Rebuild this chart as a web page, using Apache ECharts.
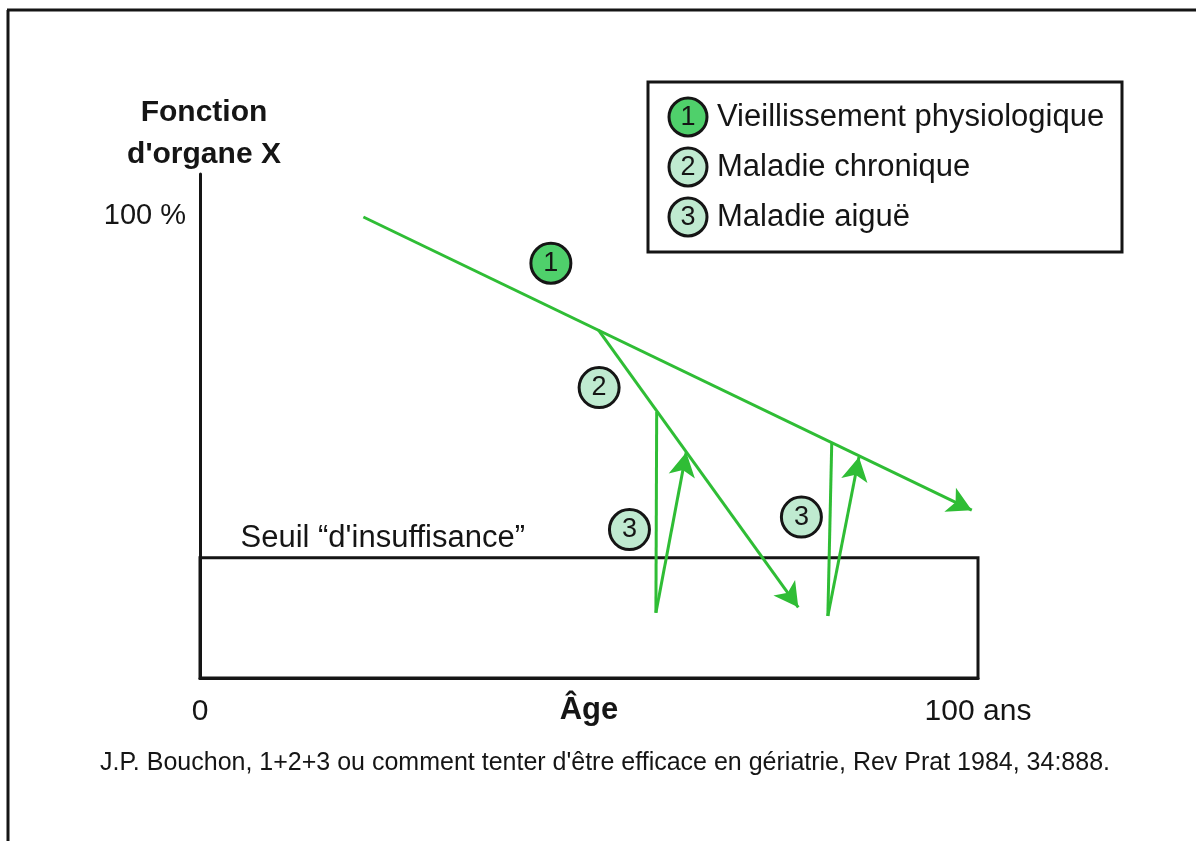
<!DOCTYPE html>
<html>
<head>
<meta charset="utf-8">
<script src="https://cdn.jsdelivr.net/npm/echarts@6/dist/echarts.min.js"></script>
<style>
  html, body { margin: 0; padding: 0; background: #fff; }
  #chart { width: 1196px; height: 841px; }
</style>
</head>
<body>
<div id="chart"></div>
<script>
// axes
let xTicks = [0, 100];
let yTicks = [100];
let threshold = 26;

// courbes (age, fonction %)
let agingLine = [[21, 99.7], [99.2, 36.3]];
let chronicLine = [[51.2, 75.3], [76.9, 15.3]];
let acuteA = [[58.7, 57.6], [58.6, 14.1], [62.5, 48.8]];
let acuteB = [[81.2, 50.8], [80.7, 13.4], [84.7, 47.8]];

// pastilles numerotees
let badges = [[45.1, 89.7, '1'], [51.3, 62.8, '2'], [55.2, 32.1, '3'], [77.3, 34.8, '3']];

let legendLabels = ['Vieillissement physiologique', 'Maladie chronique', 'Maladie aiguë'];
let legendNums = ['1', '2', '3'];

let green = '#2fbd35';
let darkFill = '#4fd06b';
let lightFill = '#bfead0';
let ink = '#151515';
let font = '"Liberation Sans", Arial, sans-serif';

function seg(a, b, arrow) {
	return [
		{ coord: a, symbol: 'none' },
		{ coord: b, symbol: arrow ? 'arrow' : 'none' }
	];
}

let segments = [
	seg(agingLine[0], agingLine[1], true),
	seg(chronicLine[0], chronicLine[1], true),
	seg(acuteA[0], acuteA[1], false),
	seg(acuteA[1], acuteA[2], true),
	seg(acuteB[0], acuteB[1], false),
	seg(acuteB[1], acuteB[2], true)
];

let legendGraphics = [{
	type: 'rect',
	shape: { x: 648, y: 82, width: 474, height: 170 },
	style: { fill: '#fff', stroke: ink, lineWidth: 3 }
}];
legendLabels.forEach(function (txt, i) {
	let cy = 117 + i * 50;
	legendGraphics.push({
		type: 'circle',
		shape: { cx: 688, cy: cy, r: 19 },
		style: { fill: i === 0 ? darkFill : lightFill, stroke: ink, lineWidth: 3 }
	});
	legendGraphics.push({
		type: 'text', x: 688, y: cy + 1,
		style: { text: legendNums[i], fontSize: 27, fontFamily: font, fill: ink, align: 'center', verticalAlign: 'middle' }
	});
	legendGraphics.push({
		type: 'text', x: 717, y: cy,
		style: { text: txt, fontSize: 31, fontFamily: font, fill: ink, align: 'left', verticalAlign: 'middle' }
	});
});

let chart = echarts.init(document.getElementById('chart'), null, { renderer: 'canvas' });

chart.setOption({
	animation: false,
	backgroundColor: '#fff',
	textStyle: { fontFamily: font },
	grid: { left: 200, right: 218, top: 174, bottom: 163 },
	xAxis: {
		type: 'value', min: 0, max: 100,
		name: 'Âge', nameLocation: 'middle', nameGap: 17, nameMoveOverlap: false,
		nameTextStyle: { fontSize: 31, fontWeight: 'bold', color: ink },
		axisLine: { show: true, onZero: false, lineStyle: { color: ink, width: 3 } },
		axisTick: { show: false },
		splitLine: { show: false },
		axisLabel: {
			customValues: xTicks, margin: 19, fontSize: 30, color: ink,
			formatter: function (v) { return v === 100 ? '100 ans' : String(v); }
		}
	},
	yAxis: {
		type: 'value', min: 0, max: 109,
		name: 'Fonction\nd\'organe X', nameLocation: 'end', nameGap: -2,
		nameTextStyle: { fontSize: 30, fontWeight: 'bold', color: ink, lineHeight: 42, align: 'center', padding: [0, 0, 0, 8] },
		axisLine: { show: true, onZero: false, lineStyle: { color: ink, width: 3 } },
		axisTick: { show: false },
		splitLine: { show: false },
		axisLabel: { customValues: yTicks, margin: 14, fontSize: 29, color: ink, formatter: '{value} %' }
	},
	series: [
		{
			type: 'line',
			data: [],
			silent: true,
			markArea: {
				silent: true,
				itemStyle: { color: 'rgba(0,0,0,0)', borderColor: ink, borderWidth: 3 },
				label: { show: true, position: [42, -33], fontSize: 31, color: ink, fontFamily: font },
				data: [[{ coord: [0, 0], name: 'Seuil “d\'insuffisance”' }, { coord: [100, threshold] }]]
			},
			markLine: {
				silent: true,
				symbolSize: [20, 24],
				label: { show: false },
				lineStyle: { color: green, width: 3, type: 'solid' },
				itemStyle: { color: green },
				emphasis: { disabled: true },
				data: segments
			}
		},
		{
			type: 'scatter',
			silent: true,
			symbol: 'circle',
			symbolSize: 40,
			z: 5,
			data: badges.map(function (b, i) {
				return {
					value: b,
					itemStyle: { color: i === 0 ? darkFill : lightFill, borderColor: ink, borderWidth: 3, opacity: 1 }
				};
			}),
			label: {
				show: true, position: 'inside', fontSize: 27, color: ink,
				formatter: function (p) { return p.value[2]; }
			}
		}
	],
	graphic: [
		{ type: 'line', shape: { x1: 8, y1: 10, x2: 8, y2: 841 }, style: { stroke: ink, lineWidth: 3 } },
		{ type: 'line', shape: { x1: 7, y1: 10, x2: 1196, y2: 10 }, style: { stroke: ink, lineWidth: 3 } },
		{
			type: 'text', x: 605, y: 763,
			style: {
				text: 'J.P. Bouchon, 1+2+3 ou comment tenter d\'être efficace en gériatrie, Rev Prat 1984, 34:888.',
				fontSize: 25, fontFamily: font,
				fill: ink, align: 'center', verticalAlign: 'middle'
			}
		}
	].concat(legendGraphics)
});
</script>
</body>
</html>
